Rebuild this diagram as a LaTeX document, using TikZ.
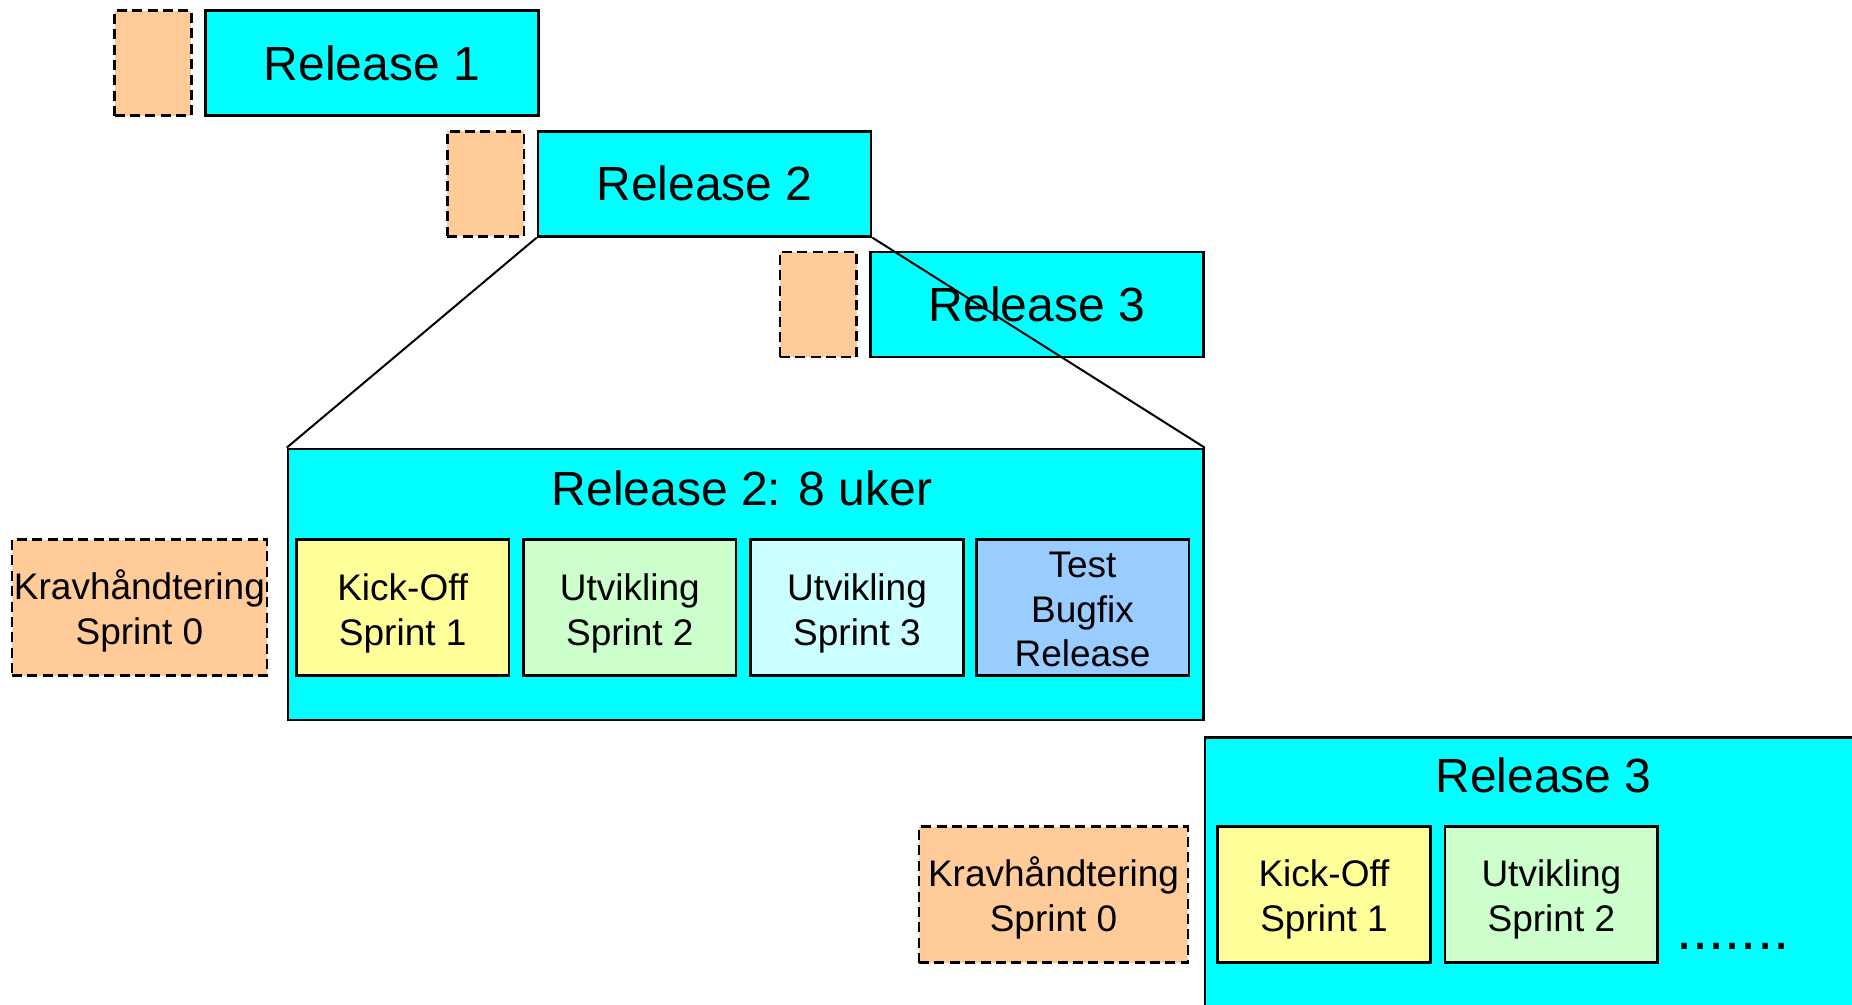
\documentclass[tikz,border=0pt]{standalone}
\usepackage{fontspec}
\setmainfont{Liberation Sans}
\definecolor{relcyan}{HTML}{00FFFF}
\definecolor{prep}{HTML}{FFCC99}
\definecolor{kickoff}{HTML}{FFFF99}
\definecolor{devgreen}{HTML}{CCFFCC}
\definecolor{devcyan}{HTML}{CCFFFF}
\definecolor{testblue}{HTML}{99CCFF}
\tikzset{
  relbox/.style={draw=black, line width=1.3pt, fill=relcyan, minimum width=166.5pt,
    minimum height=52.5pt, inner sep=0pt, font=\fontsize{24}{28}\selectfont},
  prepsmall/.style={draw=black, line width=1.3pt, dash pattern=on 5pt off 2.7pt,
    fill=prep, minimum width=38.4pt, minimum height=52.5pt, inner sep=0pt},
  sprintbox/.style={draw=black, line width=1.3pt, minimum width=106.3pt,
    minimum height=68pt, inner sep=0pt},
  prepbox/.style={sprintbox, fill=prep, dash pattern=on 5pt off 2.7pt},
  sprinttext/.style={inner sep=0pt, align=center,
    font=\fontsize{18.5}{22.4}\selectfont},
  bigbox/.style={draw=black, line width=1.3pt, fill=relcyan},
  bigtitle/.style={font=\fontsize{24}{28}\selectfont, inner sep=0pt},
  zoomline/.style={draw=black, line width=1pt}
}
\begin{document}
\begin{tikzpicture}[x=0.5pt, y=-0.5pt]
  \clip (0,0) rectangle (1852,1005);
  \fill[white] (0,0) rectangle (1852,1005);

  % release timeline
  \node[prepsmall] (p1) at (153,63.2) {};
  \node[relbox] (r1) at (372,63.2) {Release 1};
  \node[prepsmall] (p2) at (485.7,183.8) {};
  \node[relbox] (r2) at (704.5,183.8) {Release 2};
  \node[prepsmall] (p3) at (818.2,304.4) {};
  \node[relbox] (r3) at (1037,304.4) {Release 3};

  % release 2 in detail
  \node[bigbox, minimum width=457.75pt, minimum height=135.5pt, inner sep=0pt] (big2) at (745.75,584.5) {};
  \node[bigtitle] (t2) at (742,488) {Release 2: 8 uker};
  \node[prepbox, minimum width=127.6pt] (k0) at (139.4,607.6) {};
  \node[sprintbox, fill=kickoff] (s1) at (402.75,607.6) {};
  \node[sprintbox, fill=devgreen] (s2) at (629.85,607.6) {};
  \node[sprintbox, fill=devcyan] (s3) at (856.95,607.6) {};
  \node[sprintbox, fill=testblue] (s4) at (1082.5,607.6) {};
  \node[sprinttext] (k0t) at ([yshift=-1.5pt]k0.center) {Kravhåndtering\\Sprint 0};
  \node[sprinttext] (s1t) at ([yshift=-3pt]s1.center) {Kick-Off\\Sprint 1};
  \node[sprinttext] (s2t) at ([yshift=-3pt]s2.center) {Utvikling\\Sprint 2};
  \node[sprinttext] (s3t) at ([yshift=-3pt]s3.center) {Utvikling\\Sprint 3};
  \node[sprinttext] (s4t) at ([yshift=-1pt]s4.center) {Test\\Bugfix\\Release};

  % zoom lines from release 2
  \draw[zoomline] (r2.south west) -- (big2.north west);
  \draw[zoomline] (r2.south east) -- (big2.north east);

  % release 3 in detail
  \node[bigbox, anchor=north west, minimum width=340pt, minimum height=150pt, inner sep=0pt] (big3) at (1203.5,736) {};
  \node[bigtitle] (t3) at (1543.5,775) {Release 3};
  \node[prepbox, minimum width=134.6pt] (k0b) at (1053.5,894.7) {};
  \node[sprintbox, fill=kickoff] (s1b) at (1324,894.7) {};
  \node[sprintbox, fill=devgreen] (s2b) at (1551.4,894.7) {};
  \node[sprinttext] (k0bt) at ([yshift=-1.5pt]k0b.center) {Kravhåndtering\\Sprint 0};
  \node[sprinttext] (s1bt) at ([yshift=-2.5pt]s1b.center) {Kick-Off\\Sprint 1};
  \node[sprinttext] (s2bt) at ([yshift=-2.5pt]s2b.center) {Utvikling\\Sprint 2};
  \node[anchor=base west, inner sep=0pt, font=\fontsize{29}{32}\selectfont] (more) at (1676,949) {.......};
\end{tikzpicture}
\end{document}
